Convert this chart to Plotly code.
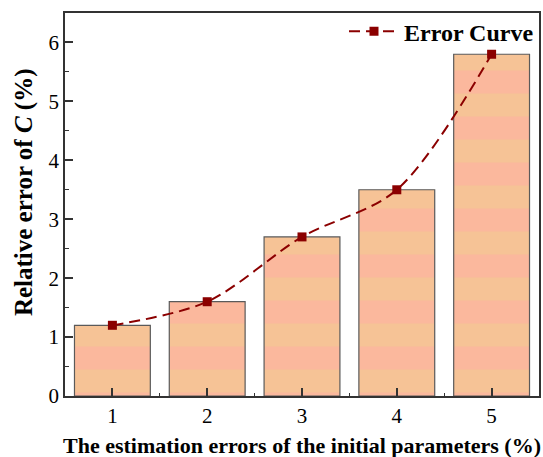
import plotly.graph_objects as go

estimation_errors = [1, 2, 3, 4, 5]
relative_error_c = [1.2, 1.6, 2.7, 3.5, 5.8]
curve_values = [1.2, 1.6, 2.7, 3.5, 5.8]
y_ticks = [0, 1, 2, 3, 4, 5, 6]
x_ticks = [1, 2, 3, 4, 5]

FONT = "Liberation Serif, Times New Roman, serif"
AXIS_COLOR = "#333333"

fig = go.Figure()
fig.add_trace(go.Bar(
    x=estimation_errors, y=relative_error_c,
    marker=dict(
        color="#F6C396",
        line=dict(color="#5a5a5a", width=1.2),
        pattern=dict(shape="-", bgcolor="#F6C396", fgcolor="#FBB89D", fgopacity=1,
                     size=46, solidity=0.5, fillmode="replace"),
    ),
    width=0.8, showlegend=False,
))
fig.add_trace(go.Scatter(
    x=estimation_errors, y=curve_values, mode="lines+markers",
    name="<b>Error Curve</b>",
    line=dict(color="#8B0000", width=2, dash="11px,6px", shape="spline", smoothing=0.9),
    marker=dict(symbol="square", size=9, color="#8B0000"),
))

fig.update_layout(
    width=543, height=457,
    margin=dict(l=65, r=2, t=13, b=61),
    paper_bgcolor="white", plot_bgcolor="white",
    font=dict(family=FONT, color="black", size=21),
    legend=dict(x=1.0, y=1.01, xanchor="right", yanchor="top",
                bgcolor="rgba(0,0,0,0)", font=dict(size=24, family=FONT),
                itemwidth=50),
    bargap=0.2,
    annotations=[
        dict(text="<b>The estimation errors of the initial parameters (%)</b>",
             xref="paper", yref="paper", x=0.5, y=-0.128,
             xanchor="center", yanchor="middle", showarrow=False,
             font=dict(size=22, family=FONT, color="black")),
        dict(text="<b>Relative error of <i>C</i> (%)</b>",
             xref="paper", yref="paper", x=-0.086, y=0.533,
             xanchor="center", yanchor="middle", showarrow=False, textangle=-90,
             font=dict(size=25, family=FONT, color="black")),
    ],
)
fig.update_xaxes(
    range=[0.5, 5.5], tickvals=x_ticks, ticktext=[str(v) for v in x_ticks],
    ticks="inside", ticklen=8, tickwidth=1.5, tickcolor=AXIS_COLOR,
    showline=True, linecolor=AXIS_COLOR, linewidth=1.5, mirror=True,
    showgrid=False, zeroline=False,
    minor=dict(ticks="inside", ticklen=3, tickwidth=1.2, tickcolor=AXIS_COLOR, dtick=0.5, tick0=0.5),
    tickfont=dict(size=21, family=FONT),
)
fig.update_yaxes(
    range=[0, 6.5], tickvals=y_ticks, ticktext=[str(v) for v in y_ticks],
    ticks="inside", ticklen=8, tickwidth=1.5, tickcolor=AXIS_COLOR,
    showline=True, linecolor=AXIS_COLOR, linewidth=1.5, mirror=True,
    showgrid=False, zeroline=False,
    minor=dict(ticks="inside", ticklen=4, tickwidth=1.2, tickcolor=AXIS_COLOR, dtick=0.5),
    tickfont=dict(size=21, family=FONT),
)

fig.write_html(
    "out.html",
    config={"displayModeBar": False},
    post_script="document.body.style.margin='0';document.body.style.overflow='hidden';",
)
